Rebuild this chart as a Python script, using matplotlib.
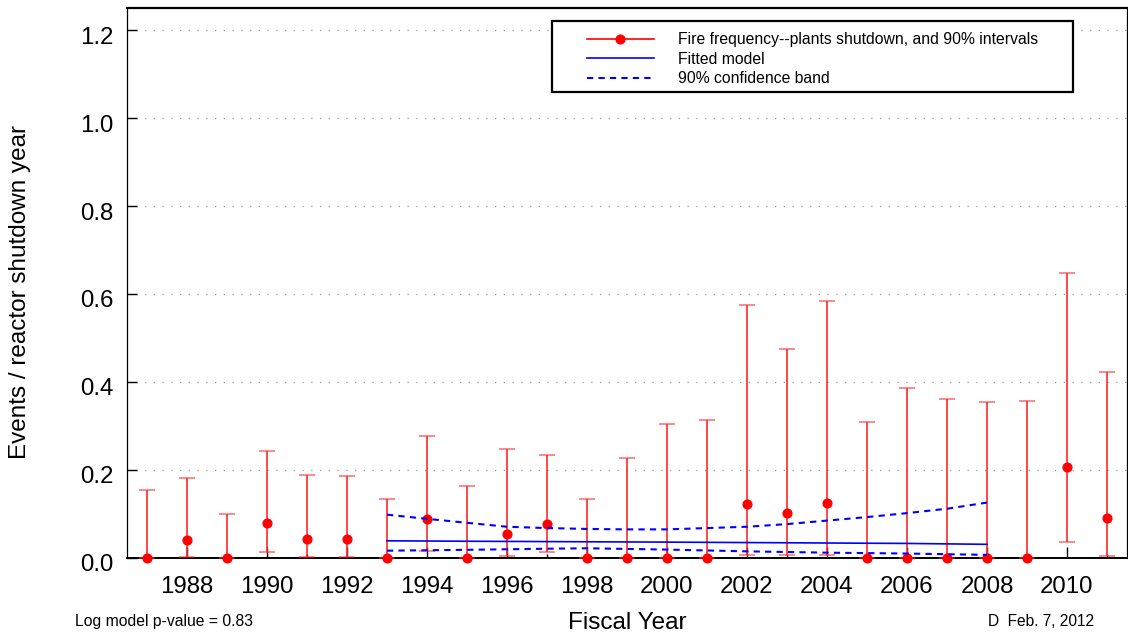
import matplotlib
matplotlib.use('Agg')
import matplotlib.pyplot as plt
import matplotlib.transforms as mtransforms
from matplotlib.lines import Line2D
from matplotlib.patches import Rectangle
from matplotlib.ticker import MultipleLocator
import numpy as np

plt.rcParams['font.family'] = ['Liberation Sans', 'DejaVu Sans']

# fire frequency per fiscal year, with 90% interval bounds
years = np.arange(1987, 2012)
rate = [0.0, 0.040, 0.0, 0.079, 0.041, 0.041, 0.0, 0.088, 0.0, 0.054,
        0.076, 0.0, 0.0, 0.0, 0.0, 0.122, 0.101, 0.124, 0.0, 0.0,
        0.0, 0.0, 0.0, 0.207, 0.091]
lower = [0.0, 0.002, 0.0, 0.0125, 0.002, 0.002, 0.0, 0.015, 0.0, 0.003,
         0.012, 0.0, 0.0, 0.0, 0.0, 0.006, 0.006, 0.006, 0.0, 0.0,
         0.0, 0.0, 0.0, 0.035, 0.003]
upper = [0.154, 0.182, 0.098, 0.243, 0.187, 0.186, 0.133, 0.277, 0.163, 0.246,
         0.233, 0.133, 0.227, 0.304, 0.314, 0.574, 0.474, 0.583, 0.309, 0.385,
         0.360, 0.354, 0.356, 0.648, 0.423]

# log-linear trend fit over 1993-2008 and its 90% band
fit_years = np.arange(1993, 2009)
fit = [0.038, 0.0375, 0.037, 0.0366, 0.0362, 0.0358, 0.0354, 0.035,
       0.0345, 0.034, 0.0335, 0.033, 0.0325, 0.032, 0.031, 0.030]
band_hi = [0.0975, 0.088, 0.079, 0.070, 0.067, 0.065, 0.064, 0.064,
           0.067, 0.070, 0.076, 0.084, 0.092, 0.101, 0.111, 0.125]
band_lo = [0.0155, 0.0165, 0.0175, 0.0187, 0.020, 0.021, 0.0195, 0.018,
           0.016, 0.014, 0.0125, 0.011, 0.010, 0.009, 0.0075, 0.006]

W, H = 1128, 639
fig = plt.figure(figsize=(W / 100, H / 100), dpi=100)
ax = fig.add_axes([127 / W, 1 - 557.5 / H, 1000 / W, 549.2 / H])

rate_a = np.array(rate)
yerr = [rate_a - np.array(lower), np.array(upper) - rate_a]
eb = ax.errorbar(years, rate, yerr=yerr, fmt='o', color='red', ms=6.3,
                 ecolor='#ff2a2a', elinewidth=1.2, capsize=6, capthick=1.4,
                 zorder=3)
eb[0].set_clip_on(False)
for cap in eb[1]:
    cap.set_alpha(0.55)

ax.plot(fit_years, fit, color='#0000ff', lw=1.2, zorder=4)
ax.plot(fit_years, band_hi, color='#0000ff', lw=1.5, ls=(0, (3, 2.5)), zorder=4)
ax.plot(fit_years, band_lo, color='#0000ff', lw=1.5, ls=(0, (3, 2.5)), zorder=4)

ax.set_xlim(1986.5, 2011.5)
ax.set_ylim(0, 1.25)
ax.xaxis.set_major_locator(MultipleLocator(2))
ax.xaxis.set_minor_locator(MultipleLocator(1))
ax.set_yticks(np.arange(0, 1.21, 0.2))
ax.set_yticklabels(['%.1f' % v for v in np.arange(0, 1.21, 0.2)])
ax.yaxis.grid(True, color='#9a9a9a', lw=0.9, ls=(0, (1, 6)))
ax.set_axisbelow(True)

ax.tick_params(axis='x', which='major', direction='in', length=8, width=1,
               labelsize=17.3, pad=13)
ax.tick_params(axis='x', which='minor', direction='in', length=3, width=1)
ax.tick_params(axis='y', direction='in', length=7, width=1, labelsize=17.3, pad=10)
shift = mtransforms.ScaledTranslation(0, -0.05, fig.dpi_scale_trans)
for lab in ax.get_yticklabels():
    lab.set_transform(lab.get_transform() + shift)

ax.spines['top'].set_linewidth(1.6)
ax.spines['bottom'].set_linewidth(1.4)
ax.spines['left'].set_linewidth(0.9)
ax.spines['right'].set_linewidth(0.9)

ax.set_xlabel('Fiscal Year', fontsize=17.5)
ax.xaxis.set_label_coords(0.5, (557.5 - 623) / 549.2)
ax.xaxis.label.set_va('center')
ax.set_ylabel('Events / reactor shutdown year', fontsize=17.5)
ax.yaxis.set_label_coords((20 - 127) / 1000, (557.5 - 291.7) / 549.2)
ax.yaxis.label.set_va('center')

# legend box with white fill, drawn over the gridlines
box = Rectangle((552 / W, 1 - 92.3 / H), (1073 - 552) / W, (92.3 - 20.7) / H,
                transform=fig.transFigure, facecolor='white', edgecolor='black',
                lw=1.6, clip_on=False, zorder=5)
ax.add_patch(box)
handles = [
    Line2D([], [], color='red', lw=1.2, marker='o', ms=6.3),
    Line2D([], [], color='#0000ff', lw=1.2),
    Line2D([], [], color='#0000ff', lw=1.5, ls=(0, (3, 2.5))),
]
labels = ['Fire frequency--plants shutdown, and 90% intervals',
          'Fitted model', '90% confidence band']
leg = ax.legend(handles, labels, loc='upper left', frameon=False, fontsize=11.3,
                bbox_to_anchor=(586.5 / W, 1 - 32 / H),
                bbox_transform=fig.transFigure, borderpad=0, borderaxespad=0,
                handlelength=4.3, handletextpad=1.5, labelspacing=0.3)
leg.set_zorder(6)

fig.text(75 / W, 1 - 621.7 / H, 'Log model p-value = 0.83', fontsize=11.3,
         ha='left', va='center')
fig.text(1094 / W, 1 - 621.7 / H, 'D  Feb. 7, 2012', fontsize=11.2,
         ha='right', va='center')

fig.savefig('out.png', dpi=100)
plt.close(fig)
